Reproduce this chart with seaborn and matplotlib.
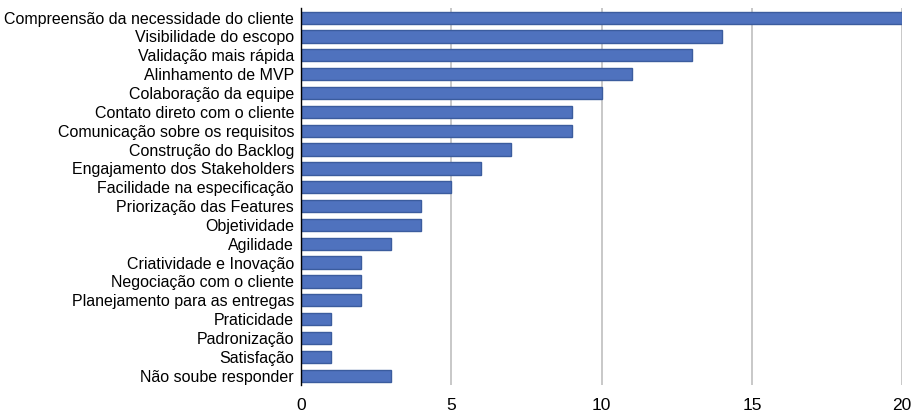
import matplotlib
matplotlib.use("Agg")
import matplotlib.pyplot as plt
import seaborn as sns
import pandas as pd

categories = [
    "Compreensão da necessidade do cliente",
    "Visibilidade do escopo",
    "Validação mais rápida",
    "Alinhamento de MVP",
    "Colaboração da equipe",
    "Contato direto com o cliente",
    "Comunicação sobre os requisitos",
    "Construção do Backlog",
    "Engajamento dos Stakeholders",
    "Facilidade na especificação",
    "Priorização das Features",
    "Objetividade",
    "Agilidade",
    "Criatividade e Inovação",
    "Negociação com o cliente",
    "Planejamento para as entregas",
    "Praticidade",
    "Padronização",
    "Satisfação",
    "Não soube responder",
]
values = [20, 14, 13, 11, 10, 9, 9, 7, 6, 5, 4, 4, 3, 2, 2, 2, 1, 1, 1, 3]
x_ticks = [0, 5, 10, 15, 20]

df = pd.DataFrame({"cat": categories, "val": values})

sns.set_theme(style="white")
plt.rcParams["font.family"] = ["Liberation Sans", "DejaVu Sans"]

fig = plt.figure(figsize=(9.15, 4.11), dpi=100)
ax = fig.add_axes([0.329, 0.063, 0.657, 0.917])

sns.barplot(data=df, x="val", y="cat", orient="h", color="#4F72BE",
            saturation=1, width=0.65, edgecolor="#3B5C9E", linewidth=1.0, ax=ax)

ax.set_xlim(0, 20)
ax.set_xticks(x_ticks)
ax.set_xticklabels([str(t) for t in x_ticks], fontsize=12.5, color="black")
ax.tick_params(axis="y", labelsize=11.5, colors="black", length=0, pad=5)
ax.tick_params(axis="x", length=0, pad=9)
ax.set_xlabel("")
ax.set_ylabel("")
ax.set_ylim(len(categories) - 0.5, -0.5)
ax.grid(axis="x", color="#BFBFBF", linewidth=1.2)
ax.set_axisbelow(True)
for s in ["top", "right", "bottom"]:
    ax.spines[s].set_visible(False)
ax.spines["left"].set_color("black")
ax.spines["left"].set_linewidth(1.0)

fig.savefig("out.png", dpi=100, facecolor="white")
